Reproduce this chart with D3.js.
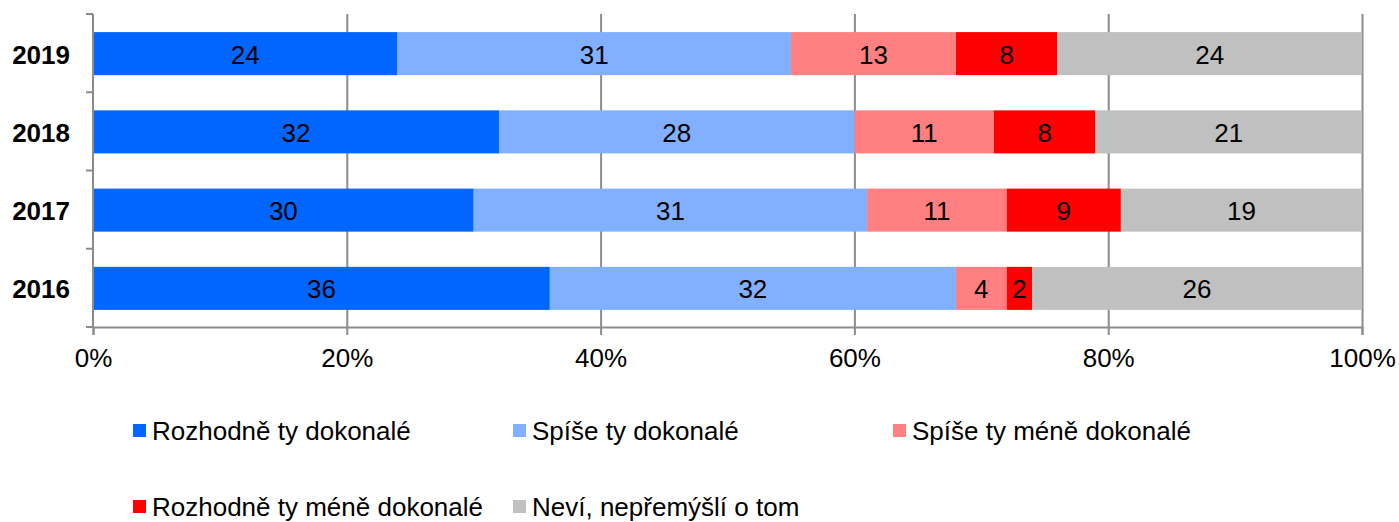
<!DOCTYPE html>
<html><head><meta charset="utf-8">
<script src="https://cdn.jsdelivr.net/npm/d3@7"></script>
<style>body{margin:0;background:#fff}svg{display:block;font-family:Arial,"Liberation Sans",sans-serif}</style>
</head><body><svg id="c" width="1399" height="522"></svg>
<script>
const years = ["2019","2018","2017","2016"];
const seriesNames = ["Rozhodně ty dokonalé","Spíše ty dokonalé","Spíše ty méně dokonalé","Rozhodně ty méně dokonalé","Neví, nepřemýšlí o tom"];
const seriesColors = ["#0066FF","#80B0FF","#FF8080","#FF0000","#C0C0C0"];
const rozhodneDok = [24,32,30,36];
const spiseDok = [31,28,31,32];
const spiseMene = [13,11,11,4];
const rozhodneMene = [8,8,9,2];
const nevi = [24,21,19,26];
const xTicks = [0,20,40,60,80,100];

const values = [rozhodneDok, spiseDok, spiseMene, rozhodneMene, nevi];
const rows = years.map((y,i)=>{const o={year:y}; seriesNames.forEach((s,k)=>o[s]=values[k][i]); return o;});
const stack = d3.stack().keys(seriesNames)(rows);

const FS = 26;
const svg = d3.select("#c");
const x = d3.scaleLinear().domain([0,100]).range([93,1362]);
const y = d3.scaleBand().domain(years).range([14.5,327.5]).paddingInner(0.45).paddingOuter(0.225);

// gridlines
svg.append("g").selectAll("line").data(xTicks.slice(1)).join("line")
  .attr("x1",d=>x(d)+0.5).attr("x2",d=>x(d)+0.5).attr("y1",14).attr("y2",327)
  .attr("stroke","#8c8c8c").attr("stroke-width",2);

// bars
const g = svg.append("g");
stack.forEach((layer,k)=>{
  g.append("g").selectAll("rect").data(layer).join("rect")
    .attr("x",d=>x(d[0])).attr("width",d=>x(d[1])-x(d[0]))
    .attr("y",d=>y(d.data.year)).attr("height",y.bandwidth())
    .attr("fill",seriesColors[k]);
  g.append("g").selectAll("text").data(layer).join("text")
    .attr("x",d=>(x(d[0])+x(d[1]))/2).attr("y",d=>y(d.data.year)+y.bandwidth()/2+1)
    .attr("text-anchor","middle").attr("dominant-baseline","central")
    .attr("font-size",FS).attr("fill","#000").text(d=>d[1]-d[0]);
});

// x axis
const xa = svg.append("g").attr("transform","translate(0,327)")
  .call(d3.axisBottom(x).tickValues(xTicks).tickFormat(d=>d+"%").tickSize(8).tickPadding(14));
xa.select(".domain").attr("stroke","#8c8c8c").attr("stroke-width",2);
xa.selectAll(".tick line").attr("stroke","#8c8c8c").attr("stroke-width",2);
xa.selectAll("text").attr("font-size",FS).attr("font-family","Arial, 'Liberation Sans', sans-serif").attr("fill","#000");

// y axis
const yEdges = d3.range(5).map(i=>14+i*(313/4));
svg.append("line").attr("x1",93).attr("x2",93).attr("y1",14).attr("y2",328).attr("stroke","#8c8c8c").attr("stroke-width",2);
svg.append("g").selectAll("line").data(yEdges).join("line")
  .attr("x1",86).attr("x2",93).attr("y1",d=>d).attr("y2",d=>d).attr("stroke","#8c8c8c").attr("stroke-width",2);
svg.append("g").selectAll("text").data(years).join("text")
  .attr("x",70).attr("y",d=>y(d)+y.bandwidth()/2+1).attr("text-anchor","end").attr("dominant-baseline","central")
  .attr("font-size",FS).attr("font-weight","bold").text(d=>d);

// legend
const legPos = [[133,430],[513,430],[893,430],[133,506],[513,506]];
const leg = svg.append("g").selectAll("g").data(seriesNames).join("g")
  .attr("transform",(d,i)=>`translate(${legPos[i][0]},${legPos[i][1]})`);
leg.append("rect").attr("x",0).attr("y",-6).attr("width",13).attr("height",13).attr("fill",(d,i)=>seriesColors[i]);
leg.append("text").attr("x",19).attr("y",1).attr("dominant-baseline","central").attr("font-size",FS).text(d=>d);
</script></body></html>
